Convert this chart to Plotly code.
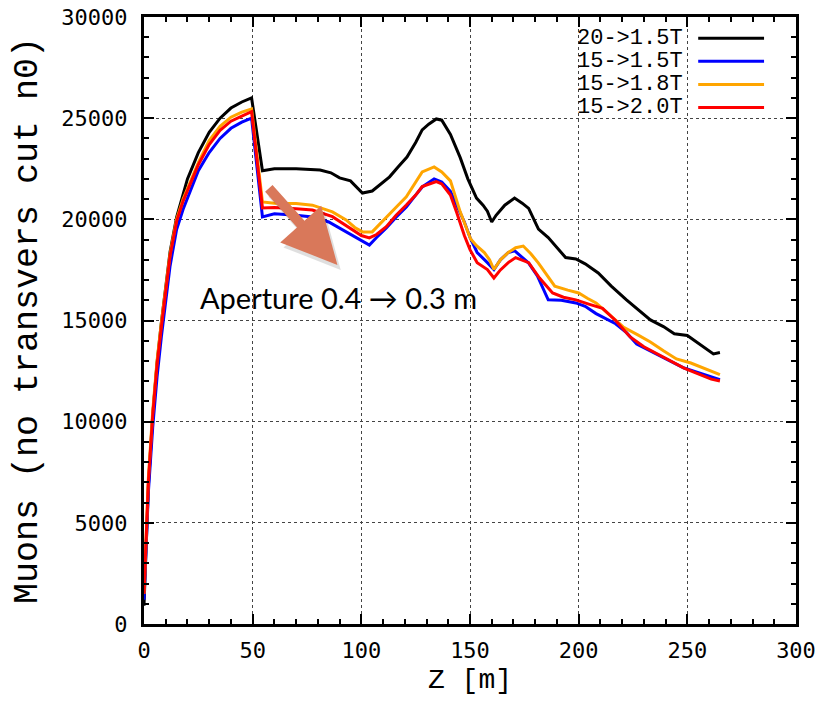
import plotly.graph_objects as go

# ---------------- data ----------------
z_black = [0, 1, 2, 4, 6, 8, 10, 12, 15, 18, 20, 25, 30, 35, 40, 45, 49.5,
           54.5, 60, 70, 81, 86, 90, 95, 100.5, 105, 109, 113, 117, 121, 125, 128, 131, 134.5, 137,
           141, 145.5, 149, 153, 156, 158, 160, 162, 166, 170.5, 174, 177, 181.5, 186, 190, 194,
           198.7, 203, 209, 215, 222, 228, 233, 239, 244, 250, 255.5, 259, 262, 265]
m_black = [900, 3500, 6800, 10300, 12900, 14900, 16700, 18400, 20100, 21300, 22000, 23300, 24300, 25000, 25500, 25800, 26000,
           22400, 22500, 22500, 22440, 22300, 22050, 21900, 21300, 21400, 21750, 22100, 22600, 23080, 23800, 24420, 24700, 24960, 24900,
           24200, 23050, 22000, 21050, 20700, 20400, 19870, 20200, 20700, 21050, 20800, 20540, 19520, 19100, 18600, 18110,
           18040, 17800, 17350, 16700, 16020, 15500, 15030, 14700, 14340, 14260, 13840, 13600, 13350, 13420]

z_blue = [0, 1, 2, 4, 6, 8, 10, 12, 15, 18, 25, 30, 35, 40, 45, 49.5,
          54.5, 60, 70, 77.5, 85, 93, 98, 103.7, 107, 111.5, 116, 120.7, 125, 128, 133.5, 137,
          141, 144, 147.4, 150, 153.3, 158, 161, 164, 167.6, 170.6, 174, 177, 181, 186, 192,
          198.7, 203, 208, 217, 222, 226.7, 233, 239, 244, 248.5, 253, 257.7, 261, 265]
m_blue = [1200, 3500, 6500, 9700, 12200, 14200, 16000, 17700, 19500, 20500, 22400, 23300, 24000, 24500, 24800, 25000,
          20120, 20270, 20200, 20120, 19870, 19380, 19050, 18730, 19100, 19570, 20100, 20610, 21200, 21600, 22000, 21850,
          21380, 20700, 19870, 19100, 18360, 17860, 17520, 18000, 18360, 18440, 18100, 17840, 17200, 16020, 16000,
          15870, 15700, 15340, 14840, 14400, 13840, 13500, 13170, 12900, 12650, 12500, 12330, 12200, 12080]

z_orange = [0, 1, 2, 4, 6, 8, 10, 12, 15, 18, 25, 30, 35, 40, 45, 49.5,
            54.5, 60, 70, 77.5, 86.7, 93, 97, 100.5, 105, 108, 111.5, 116, 120.7, 125, 128, 133.5, 137,
            141, 145.5, 150.3, 153, 156.6, 159, 161, 164, 167.6, 171, 174.5, 178, 181.5, 185, 189,
            195, 200, 204, 208, 214, 220.5, 227, 233, 239, 245, 251.6, 257.7, 261, 265]
m_orange = [1500, 4000, 7200, 10500, 13000, 14900, 16600, 18300, 20000, 21000, 22800, 23900, 24600, 25050, 25300, 25450,
            20860, 20800, 20780, 20700, 20370, 19970, 19600, 19380, 19380, 19700, 20120, 20600, 21110, 21800, 22340, 22590, 22340,
            21900, 20370, 19030, 18700, 18360, 18000, 17520, 18000, 18360, 18600, 18680, 18300, 17840, 17300, 16700,
            16500, 16360, 16100, 15870, 15300, 14680, 14300, 13940, 13500, 13100, 12900, 12650, 12500, 12330]

z_red = [0, 1, 2, 4, 6, 8, 10, 12, 15, 18, 25, 30, 35, 40, 45, 49.5,
         54.5, 60, 70, 77.5, 86.7, 96, 100, 103.7, 107, 111.5, 116, 120.7, 125, 128, 134.5, 137,
         141, 144, 147.4, 150, 153.3, 158, 161, 164, 167.6, 171, 174, 177, 182, 188, 193,
         198.7, 205, 211, 217, 223.7, 230, 239, 244, 248.5, 253, 257.7, 261, 265]
m_red = [1500, 4000, 7000, 10300, 12800, 14700, 16500, 18200, 19900, 20900, 22700, 23700, 24400, 24850, 25100, 25320,
         20560, 20580, 20520, 20460, 20130, 19480, 19200, 19080, 19250, 19640, 20200, 20710, 21200, 21620, 21860, 21750,
         21200, 20300, 19200, 18500, 17860, 17520, 17100, 17500, 17860, 18110, 18000, 17860, 17100, 16360, 16150,
         16020, 15800, 15600, 15000, 14190, 13700, 13170, 12900, 12650, 12450, 12260, 12100, 12010]

series = [
    ("20->1.5T", z_black, m_black, "#000000"),
    ("15->1.5T", z_blue, m_blue, "#0000FF"),
    ("15->1.8T", z_orange, m_orange, "#FFA500"),
    ("15->2.0T", z_red, m_red, "#FF0000"),
]

x_ticks = [0, 50, 100, 150, 200, 250, 300]
y_ticks = [0, 5000, 10000, 15000, 20000, 25000, 30000]

x_title = "Z [m]"
y_title = "Muons (no transvers cut n0)"
note_text = "Aperture 0.4 \u2192 0.3 m"

# ---------------- figure ----------------
fig = go.Figure()
for name, xs, ys, col in series:
    fig.add_trace(go.Scatter(x=xs, y=ys, mode="lines", name=name,
                             line=dict(color=col, width=3), showlegend=False))

mono = "Liberation Mono"
tickfont = dict(family="DejaVu Sans Mono", size=22, color="#000")

axis_common = dict(
    showline=True, linecolor="#000", linewidth=3, mirror="ticks",
    ticks="inside", ticklen=10, tickwidth=2, tickcolor="#000",
    showgrid=True, gridcolor="#444", griddash="dot", gridwidth=1,
    zeroline=False, tickfont=tickfont, ticklabeloverflow="allow",
)

fig.update_xaxes(range=[0, 300], tickvals=x_ticks, ticktext=[str(v) for v in x_ticks],
                 minor=dict(dtick=10, ticks="inside", ticklen=5, tickwidth=2, tickcolor="#000", showgrid=False),
                 title=dict(text=x_title, font=dict(family=mono, size=28, color="#000"), standoff=6),
                 ticklabelstandoff=5, **axis_common)
fig.update_yaxes(range=[0, 30000], tickvals=y_ticks, ticktext=[str(v) for v in y_ticks],
                 minor=dict(dtick=1000, ticks="inside", ticklen=5, tickwidth=2, tickcolor="#000", showgrid=False),
                 title=dict(text=y_title, font=dict(family=mono, size=35, color="#000"), standoff=14),
                 ticklabelstandoff=9, **axis_common)

# manual gnuplot-style legend (text right, line sample right)
legend_y = [0.965, 0.927, 0.889, 0.851]
for (name, _, _, col), ly in zip(series, legend_y):
    fig.add_annotation(x=0.829, y=ly, xref="paper", yref="paper", text=name, showarrow=False,
                       xanchor="right", yanchor="middle",
                       font=dict(family=mono, size=22, color="#000"))
    fig.add_shape(type="line", xref="paper", yref="paper", x0=0.85, x1=0.951, y0=ly, y1=ly,
                  line=dict(color=col, width=3))

# arrow shadow + arrow
fig.add_annotation(x=90.5, y=17500, ax=58.3, ay=21350, xref="x", yref="y", axref="x", ayref="y",
                   text="", showarrow=True, arrowhead=2, arrowsize=1.1, arrowwidth=10,
                   arrowcolor="rgba(0,0,0,0.12)")
fig.add_annotation(x=89, y=17745, ax=56.8, ay=21600, xref="x", yref="y", axref="x", ayref="y",
                   text="", showarrow=True, arrowhead=2, arrowsize=1.1, arrowwidth=10,
                   arrowcolor="#D9785A")

fig.add_annotation(x=89.5, y=16150, xref="x", yref="y", text=note_text, showarrow=False,
                   xanchor="center", yanchor="middle",
                   font=dict(family="Lato", size=29, color="#000"))

fig.update_layout(
    width=823, height=701,
    margin=dict(l=144, r=27, t=17, b=77, autoexpand=False),
    paper_bgcolor="#fff", plot_bgcolor="#fff",
)

fig.write_html("out.html", config={"displayModeBar": False},
               post_script="document.body.style.margin='0';")
